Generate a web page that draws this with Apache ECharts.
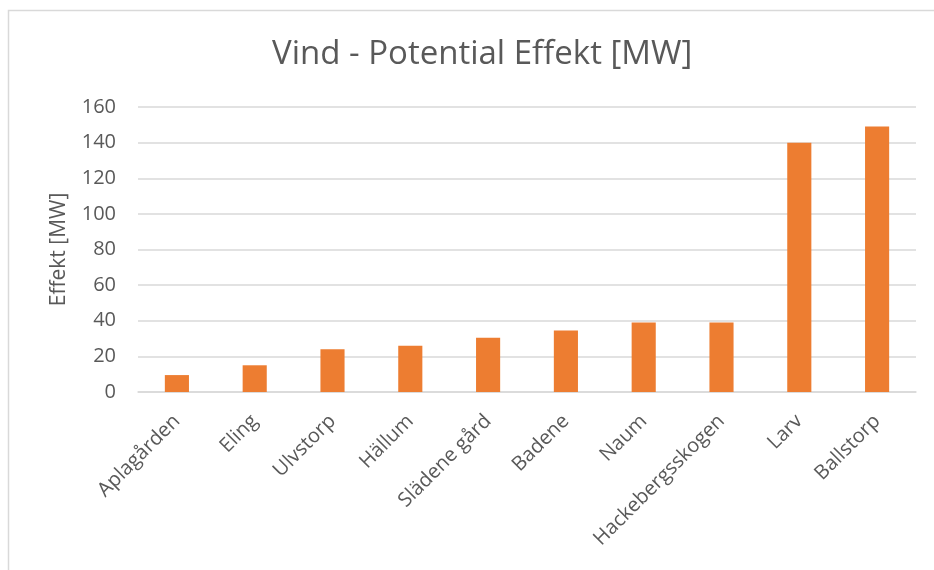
<!DOCTYPE html>
<html>
<head>
<meta charset="utf-8">
<script src="https://cdn.jsdelivr.net/npm/echarts@6/dist/echarts.min.js"></script>
<style>html,body{margin:0;padding:0;background:#fff}#c{width:934px;height:570px}</style>
</head>
<body>
<div id="c"></div>
<script>
const categories = ["Aplagården","Eling","Ulvstorp","Hällum","Slädene gård","Badene","Naum","Hackebergsskogen","Larv","Ballstorp"];
const values = [9.5, 15, 24, 26, 30.5, 34.5, 39, 39, 140, 149];
const yTicks = [0, 20, 40, 60, 80, 100, 120, 140, 160];
const titleText = "Vind - Potential Effekt [MW]";
const yName = "Effekt [MW]";

const chart = echarts.init(document.getElementById('c'));
const font = '"Open Sans", "Noto Sans", sans-serif';
chart.setOption({
  animation: false,
  backgroundColor: '#fff',
  graphic: [{
    type: 'rect', left: 6, top: 8, silent: true,
    shape: { x: 0, y: 0, width: 940, height: 600 },
    style: { fill: 'none', stroke: '#d9d9d9', lineWidth: 1.5 }
  }],
  title: {
    text: titleText, left: 267, top: 33,
    textStyle: { fontFamily: font, fontSize: 33, fontWeight: 'normal', color: '#595959' }
  },
  grid: { left: 138, right: 18, top: 107, bottom: 178, containLabel: false },
  xAxis: {
    type: 'category', data: categories,
    axisLine: { lineStyle: { color: '#d9d9d9', width: 1.5 } },
    axisTick: { show: false },
    axisLabel: { rotate: 45, margin: 26, interval: 0, fontFamily: font, fontSize: 20, color: '#595959' }
  },
  yAxis: {
    type: 'value', min: yTicks[0], max: yTicks[yTicks.length - 1], interval: 20,
    name: yName, nameLocation: 'middle', nameGap: 68, nameRotate: 90,
    nameTextStyle: { fontFamily: font, fontSize: 21, color: '#595959' },
    axisLine: { show: false }, axisTick: { show: false },
    axisLabel: { margin: 22, fontFamily: font, fontSize: 20, color: '#595959' },
    splitLine: { lineStyle: { color: '#d9d9d9', width: 1.5 } }
  },
  series: [{
    type: 'bar', data: values, barWidth: '31%',
    itemStyle: { color: '#ED7D31' }
  }]
});
</script>
</body>
</html>
